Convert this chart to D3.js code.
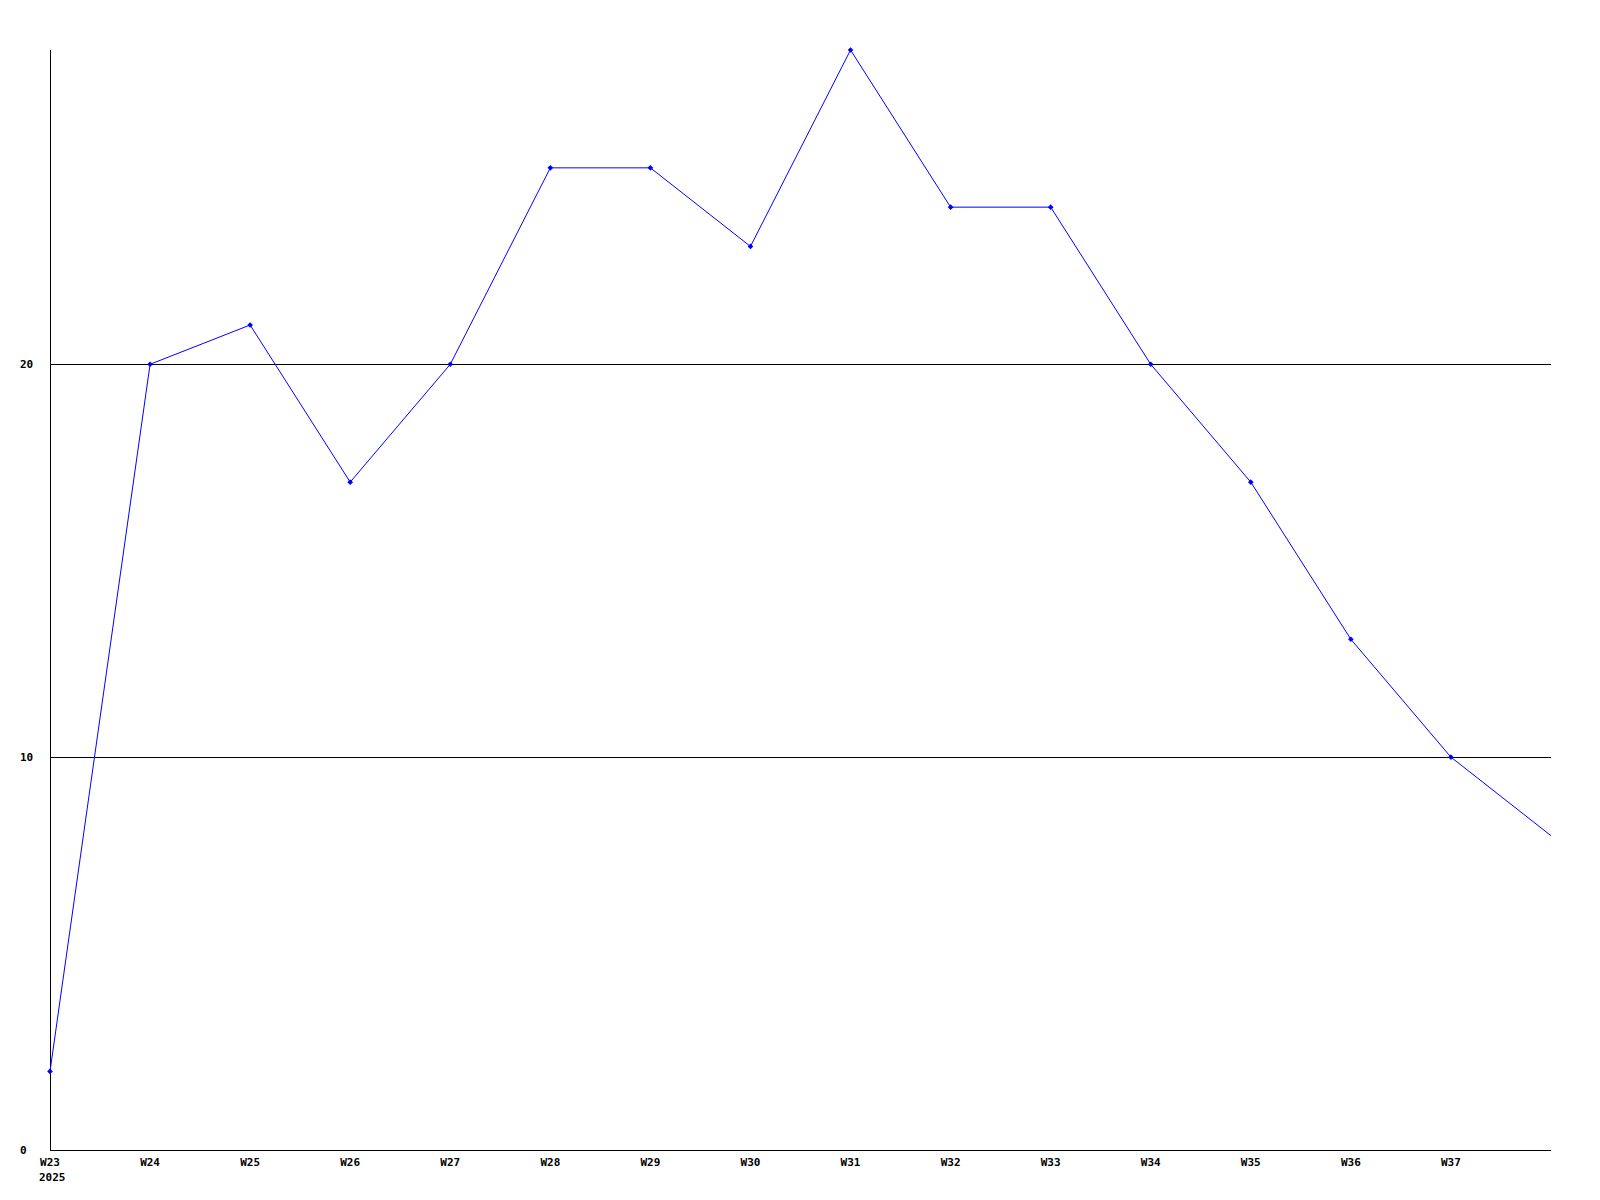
<!DOCTYPE html>
<html>
<head>
<meta charset="utf-8">
<script src="https://cdn.jsdelivr.net/npm/d3@7"></script>
<style>
  body { margin: 0; background: #fff; }
  text { font-family: "DejaVu Sans Mono", monospace; font-weight: bold; font-size: 11px; fill: #000; }
</style>
</head>
<body>
<div id="chart"></div>
<script>
// weeks shown on the x axis (W38 is the last point, no label)
var weeks = ['W23','W24','W25','W26','W27','W28','W29','W30','W31','W32','W33','W34','W35','W36','W37','W38'];
var values = [2, 20, 21, 17, 20, 25, 25, 23, 28, 24, 24, 20, 17, 13, 10, 8];
var tickWeeks = weeks.slice(0, 15);
var yTicks = [0, 10, 20];
var yearLabel = '2025';

var W = 1600, H = 1200;
var plotLeft = 50, plotRight = 1551, plotTop = 50, plotBottom = 1150;

var svg = d3.select('#chart').append('svg').attr('width', W).attr('height', H);

var x = d3.scalePoint().domain(weeks).range([plotLeft, plotRight]);
var y = d3.scaleLinear().domain([0, 28]).range([plotBottom, plotTop]);

// grid lines
svg.selectAll('line.grid').data(yTicks.filter(function(d){ return d > 0; }))
  .enter().append('line')
  .attr('x1', plotLeft).attr('x2', plotRight)
  .attr('y1', function(d){ return Math.round(y(d)) + 0.5; })
  .attr('y2', function(d){ return Math.round(y(d)) + 0.5; })
  .attr('stroke', '#000').attr('shape-rendering', 'crispEdges');

// axes
svg.append('line').attr('x1', plotLeft + 0.5).attr('x2', plotLeft + 0.5).attr('y1', plotTop).attr('y2', plotBottom)
  .attr('stroke', '#000').attr('shape-rendering', 'crispEdges');
svg.append('line').attr('x1', plotLeft).attr('x2', plotRight).attr('y1', plotBottom + 0.5).attr('y2', plotBottom + 0.5)
  .attr('stroke', '#000').attr('shape-rendering', 'crispEdges');

// y labels
svg.selectAll('text.ylab').data(yTicks).enter().append('text')
  .attr('x', 20).attr('y', function(d){ return y(d); })
  .attr('dy', '0.35em')
  .text(function(d){ return d; });

// x labels
svg.selectAll('text.xlab').data(tickWeeks).enter().append('text')
  .attr('x', function(d){ return x(d); })
  .attr('y', plotBottom + 12)
  .attr('dy', '0.35em')
  .attr('text-anchor', 'middle')
  .text(function(d){ return d; });
svg.append('text').attr('x', x('W23') - 11).attr('y', plotBottom + 27).attr('dy', '0.35em').text(yearLabel);

// line
var line = d3.line().x(function(d, i){ return x(weeks[i]); }).y(function(d){ return y(d); });
svg.append('path').datum(values).attr('d', line)
  .attr('fill', 'none').attr('stroke', '#0000ff').attr('stroke-width', 1);

// markers (not on the last point) - small square turned 45deg
svg.selectAll('path.mk').data(values.slice(0, 15)).enter().append('path')
  .attr('d', d3.symbol().type(d3.symbolSquare).size(16))
  .attr('transform', function(d, i){ return 'translate(' + x(weeks[i]) + ',' + y(d) + ') rotate(45)'; })
  .attr('fill', '#0000ff');
</script>
</body>
</html>
